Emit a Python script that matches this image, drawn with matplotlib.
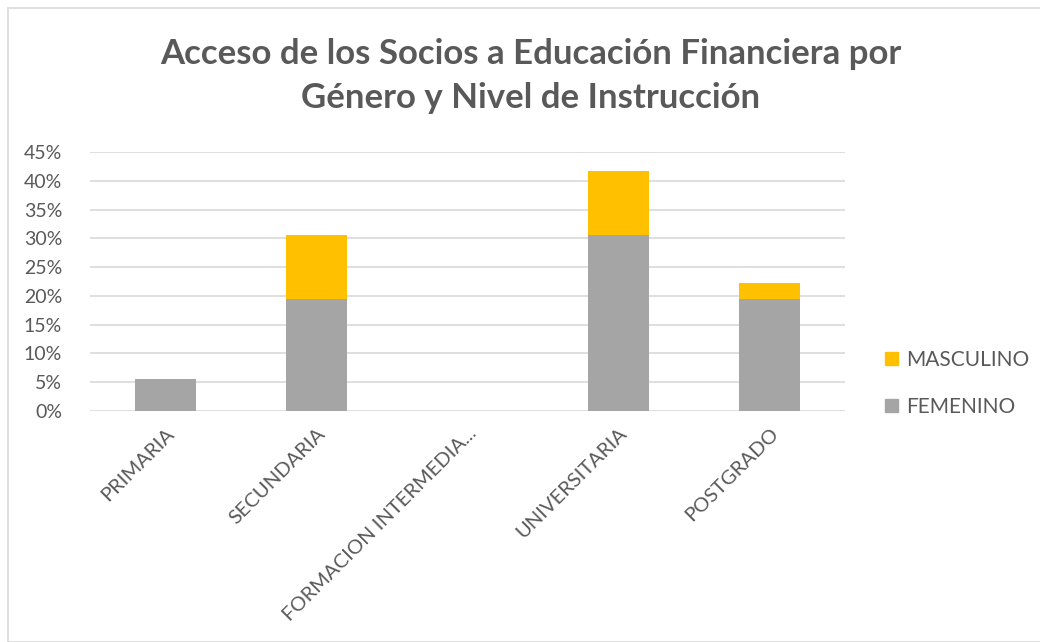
import numpy as np
import matplotlib.pyplot as plt
from matplotlib.patches import Rectangle, Patch
from matplotlib.ticker import PercentFormatter

categorias = ["PRIMARIA", "SECUNDARIA", "FORMACION INTERMEDIA...", "UNIVERSITARIA", "POSTGRADO"]
femenino = [5.56, 19.44, 0.0, 30.56, 19.44]
masculino = [0.0, 11.11, 0.0, 11.11, 2.78]

gris = "#A5A5A5"
amarillo = "#FFC000"
texto = "#595959"

plt.rcParams['font.family'] = ['Lato', 'DejaVu Sans']

fig = plt.figure(figsize=(10.4, 6.42), dpi=100)
fig.patches.append(Rectangle((8 / 1040, 0), 1, 1 - 8 / 642, transform=fig.transFigure,
                             fill=False, edgecolor="#d9d9d9", linewidth=1.2))
ax = fig.add_axes([0.0865, 0.3598, 0.726, 0.4034])

x = np.arange(len(categorias))
ax.bar(x, femenino, width=0.4, color=gris, zorder=3)
ax.bar(x, masculino, width=0.4, bottom=femenino, color=amarillo, zorder=3)

ax.set_xlim(-0.5, 4.5)
ax.set_ylim(0, 45)
ax.set_yticks(np.arange(0, 46, 5))
ax.yaxis.set_major_formatter(PercentFormatter(decimals=0))
ax.grid(axis="y", color="#d9d9d9", linewidth=1.2, zorder=0)
for s in ax.spines.values():
    s.set_visible(False)
ax.tick_params(length=0, colors=texto)
ax.tick_params(axis="y", labelsize=14, pad=20)
ax.tick_params(axis="x", pad=10)
ax.set_xticks(x)
ax.set_xticklabels(categorias, rotation=45, ha="right", rotation_mode="anchor", fontsize=14.5)

fig.text(0.51, 0.882, "Acceso de los Socios a Educación Financiera por\nGénero y Nivel de Instrucción",
         ha="center", va="center", fontsize=25, fontweight="bold", color=texto, linespacing=1.45)

handles = [Patch(color=amarillo, label="MASCULINO"), Patch(color=gris, label="FEMENINO")]
fig.legend(handles=handles, loc="center left", bbox_to_anchor=(0.833, 0.403), frameon=False,
           fontsize=15, labelcolor=texto, handlelength=0.6, handleheight=0.6,
           handletextpad=0.4, labelspacing=1.3)

fig.savefig("out.png", dpi=100)
